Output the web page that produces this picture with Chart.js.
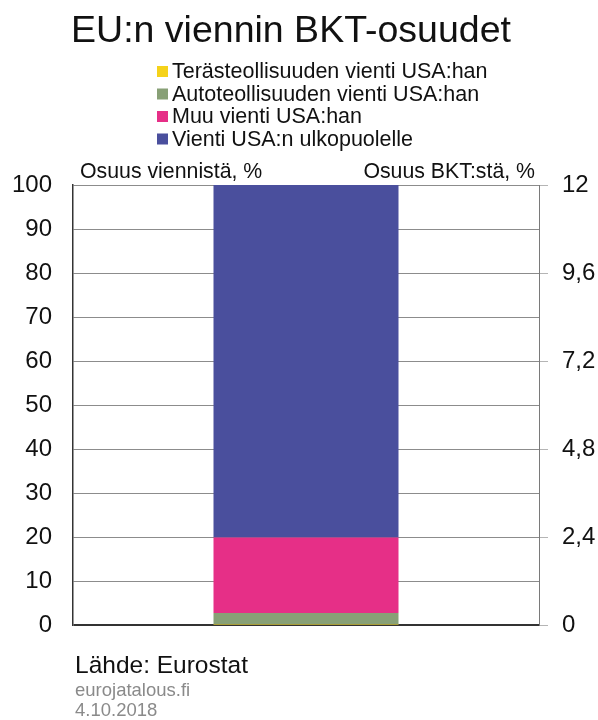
<!DOCTYPE html>
<html>
<head>
<meta charset="utf-8">
<script src="https://cdn.jsdelivr.net/npm/chart.js@4/dist/chart.umd.min.js"></script>
<style>
  html, body { margin: 0; padding: 0; background: #fff; }
  #wrap { width: 598px; height: 720px; position: relative; }
</style>
</head>
<body>
<div id="wrap"><canvas id="c" width="598" height="720"></canvas></div>
<script>
// ---- Data ----
const categories = ['EU'];
const seriesLabels = [
  'Terästeollisuuden vienti USA:han',
  'Autoteollisuuden vienti USA:han',
  'Muu vienti USA:han',
  'Vienti USA:n ulkopuolelle'
];
const steelExports = [0.1];
const autoExports = [2.6];
const otherUsaExports = [17.2];
const nonUsaExports = [80.1];
const leftTicks = [0, 10, 20, 30, 40, 50, 60, 70, 80, 90, 100];
const rightTicks = [0, 2.4, 4.8, 7.2, 9.6, 12];
const seriesColors = ['#f5d21a', '#88a076', '#e62f87', '#4a4f9d'];

const titleText = 'EU:n viennin BKT-osuudet';
const leftAxisTitle = 'Osuus viennistä, %';
const rightAxisTitle = 'Osuus BKT:stä, %';
const sourceText = 'Lähde: Eurostat';
const siteText = 'eurojatalous.fi';
const dateText = '4.10.2018';

const FONT = '"Liberation Sans", Arial, Helvetica, sans-serif';

const seriesValues = [steelExports, autoExports, otherUsaExports, nonUsaExports];

const textPlugin = {
  id: 'texts',
  afterDraw(chart) {
    const ctx = chart.ctx;
    const area = chart.chartArea;
    ctx.save();
    // Title
    ctx.fillStyle = '#111';
    ctx.textAlign = 'center';
    ctx.textBaseline = 'alphabetic';
    ctx.font = '37.5px ' + FONT;
    ctx.fillText(titleText, 291, 42);
    // Legend
    ctx.textAlign = 'left';
    ctx.font = '21.5px ' + FONT;
    seriesLabels.forEach((lab, i) => {
      const cy = 70 + i * 22.5;
      ctx.fillStyle = seriesColors[i];
      ctx.fillRect(157, cy - 4, 11, 11);
      ctx.fillStyle = '#111';
      ctx.fillText(lab, 172, cy + 8);
    });
    // Axis titles
    ctx.font = '21.3px ' + FONT;
    ctx.fillStyle = '#111';
    ctx.textAlign = 'left';
    ctx.fillText(leftAxisTitle, area.left + 7, area.top - 7);
    ctx.textAlign = 'right';
    ctx.fillText(rightAxisTitle, area.right - 4, area.top - 7);
    // Footer
    ctx.textAlign = 'left';
    ctx.font = '24.5px ' + FONT;
    ctx.fillStyle = '#111';
    ctx.fillText(sourceText, 75, 673);
    ctx.font = '18.5px ' + FONT;
    ctx.fillStyle = '#8a8a8a';
    ctx.fillText(siteText, 75, 696);
    ctx.fillText(dateText, 75, 716);
    ctx.restore();
  }
};

new Chart(document.getElementById('c'), {
  type: 'bar',
  data: {
    labels: categories,
    datasets: seriesLabels.map((lab, i) => ({
      label: lab,
      data: seriesValues[i],
      backgroundColor: seriesColors[i],
      borderWidth: 0,
      yAxisID: 'y',
      categoryPercentage: 1,
      barPercentage: 0.397
    }))
  },
  options: {
    responsive: false,
    devicePixelRatio: 1,
    animation: false,
    layout: { padding: { top: 185, bottom: 95, left: 0, right: 0 } },
    plugins: { legend: { display: false }, title: { display: false }, tooltip: { enabled: false } },
    scales: {
      x: { stacked: true, display: false },
      y: {
        stacked: true,
        position: 'left',
        min: 0, max: 100,
        afterBuildTicks: s => { s.ticks = leftTicks.map(v => ({ value: v })); },
        afterFit: s => { s.width = 73; },
        ticks: { color: '#111', font: { family: FONT, size: 24 }, padding: 21 },
        grid: {
          drawTicks: false,
          color: c => (c.tick && c.tick.value === 0) ? '#333' : '#8c8c8c',
          lineWidth: c => (c.tick && c.tick.value === 0) ? 2 : 1
        },
        border: { display: true, color: '#333', width: 1.5 }
      },
      y2: {
        position: 'right',
        min: 0, max: 12,
        afterBuildTicks: s => { s.ticks = rightTicks.map(v => ({ value: v })); },
        afterFit: s => { s.width = 59; },
        ticks: {
          color: '#111', font: { family: FONT, size: 24 }, padding: 14,
          callback: v => String(Math.round(v * 10) / 10).replace('.', ',')
        },
        grid: { drawOnChartArea: false, drawTicks: true, tickLength: 9, color: '#b5b5b5' },
        border: { display: true, color: '#7a7a7a', width: 1 }
      }
    }
  },
  plugins: [textPlugin]
});
</script>
</body>
</html>
